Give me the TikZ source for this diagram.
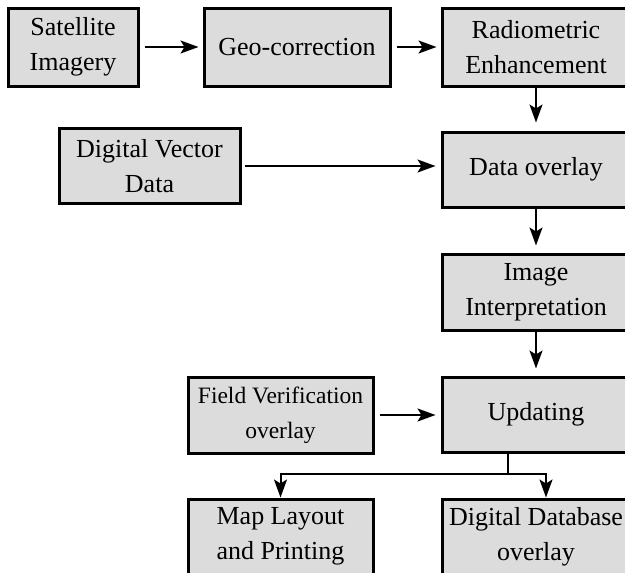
\documentclass[tikz,border=0pt]{standalone}
\usepackage{fontspec}
\setmainfont{Liberation Serif}
\usetikzlibrary{arrows.meta,calc}
\definecolor{boxgray}{RGB}{220,220,220}

\begin{document}
\begin{tikzpicture}[x=1pt,y=-1pt,
  box/.style={draw=black, fill=boxgray, line width=3pt, align=center, inner sep=0pt,
    font=\fontsize{26}{35}\selectfont},
  flow/.style={line width=2pt, -{Stealth[length=18pt,width=13pt,inset=4pt]}}]
  \clip (0,0) rectangle (625,573);
  % top row
  \node[box, minimum width=130pt, minimum height=78pt] (sat) at (73,47) {Satellite\\Imagery};
  \node[box, minimum width=186pt, minimum height=78pt] (geo) at (297,47) {Geo-correction};
  \node[box, minimum width=188pt, minimum height=78pt] (rad) at (536,47) {Radiometric\\Enhancement};
  % overlay row
  \node[box, minimum width=181pt, minimum height=75pt] (dvd) at (149.5,166) {Digital Vector\\Data};
  \node[box, minimum width=188pt, minimum height=75pt] (ovl) at (536,169.5) {Data overlay};
  \node[box, minimum width=188pt, minimum height=76pt] (intp) at (536,292) {Image\\Interpretation};
  % updating row
  \node[box, minimum width=185pt, minimum height=76pt, font=\fontsize{23.5}{35}\selectfont] (fld) at (280.5,415) {Field Verification\\overlay};
  \node[box, minimum width=188pt, minimum height=75pt] (upd) at (536,414.5) {Updating};
  % outputs
  \node[box, minimum width=185pt, minimum height=75pt] (map) at (280.5,536.5) {Map Layout\\and Printing};
  \node[box, minimum width=188pt, minimum height=75pt] (db) at (536,536.5) {Digital Database\\overlay};

  \draw[flow, shorten <=5pt, shorten >=4pt] (sat) -- (geo);
  \draw[flow, shorten <=5pt, shorten >=4pt] (geo) -- (rad);
  \draw[flow, shorten >=8pt] (rad) -- (ovl);
  \draw[flow, shorten <=3pt, shorten >=5pt] (dvd.east) -- (dvd.east -| ovl.west);
  \draw[flow, shorten >=7pt] (ovl) -- (intp);
  \draw[flow, shorten >=7pt] (intp) -- (upd);
  \draw[flow, shorten <=5pt, shorten >=5pt] (fld.east) -- (fld.east -| upd.west);
  % split to the two outputs
  \coordinate (split) at (508,474);
  \draw[line width=2pt] (split |- upd.south) -- (split);
  \draw[flow] (split) -| (map.north);
  \draw[flow] (split) -| ($(db.north)+(10,0)$);
\end{tikzpicture}
\end{document}
